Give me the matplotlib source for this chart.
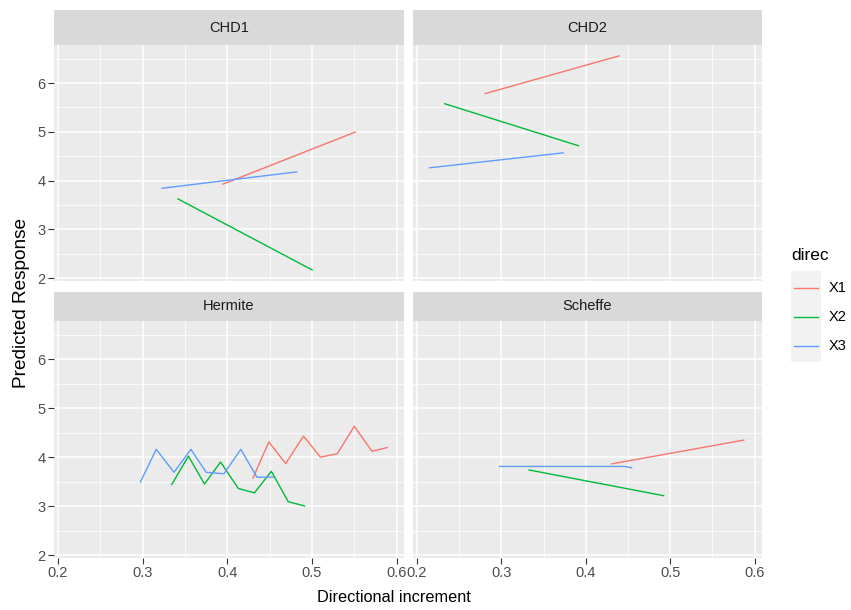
import matplotlib
matplotlib.use("Agg")
import matplotlib.pyplot as plt
from matplotlib.patches import Rectangle
from matplotlib.lines import Line2D
import numpy as np

# ---------------- data ----------------
panels = ["CHD1", "CHD2", "Hermite", "Scheffe"]
directions = ["X1", "X2", "X3"]
colors = ["#F8766D", "#00BA38", "#619CFF"]

# CHD1
chd1_x1_x = [0.394, 0.552]
chd1_x1_y = [3.92, 5.00]
chd1_x2_x = [0.341, 0.501]
chd1_x2_y = [3.63, 2.16]
chd1_x3_x = [0.322, 0.483]
chd1_x3_y = [3.84, 4.18]

# CHD2
chd2_x1_x = [0.280, 0.440]
chd2_x1_y = [5.78, 6.56]
chd2_x2_x = [0.232, 0.392]
chd2_x2_y = [5.58, 4.71]
chd2_x3_x = [0.214, 0.374]
chd2_x3_y = [4.26, 4.57]

# Hermite
herm_x1_x = [0.430, 0.449, 0.469, 0.490, 0.510, 0.530, 0.550, 0.571, 0.590]
herm_x1_y = [3.56, 4.31, 3.87, 4.43, 4.00, 4.07, 4.63, 4.12, 4.20]
herm_x2_x = [0.334, 0.354, 0.373, 0.392, 0.413, 0.432, 0.452, 0.472, 0.492]
herm_x2_y = [3.43, 4.02, 3.45, 3.90, 3.36, 3.27, 3.71, 3.09, 3.00]
herm_x3_x = [0.297, 0.316, 0.337, 0.357, 0.375, 0.396, 0.416, 0.435, 0.455]
herm_x3_y = [3.48, 4.16, 3.69, 4.16, 3.69, 3.66, 4.16, 3.59, 3.59]

# Scheffe
sch_x1_x = [0.430, 0.588]
sch_x1_y = [3.86, 4.35]
sch_x2_x = [0.332, 0.493]
sch_x2_y = [3.74, 3.21]
sch_x3_x = [0.297, 0.446, 0.455]
sch_x3_y = [3.81, 3.81, 3.78]

series = {
    "CHD1": [(chd1_x1_x, chd1_x1_y), (chd1_x2_x, chd1_x2_y), (chd1_x3_x, chd1_x3_y)],
    "CHD2": [(chd2_x1_x, chd2_x1_y), (chd2_x2_x, chd2_x2_y), (chd2_x3_x, chd2_x3_y)],
    "Hermite": [(herm_x1_x, herm_x1_y), (herm_x2_x, herm_x2_y), (herm_x3_x, herm_x3_y)],
    "Scheffe": [(sch_x1_x, sch_x1_y), (sch_x2_x, sch_x2_y), (sch_x3_x, sch_x3_y)],
}

x_ticks = [0.2, 0.3, 0.4, 0.5, 0.6]
x_tick_labels = ["0.2", "0.3", "0.4", "0.5", "0.6"]
y_ticks = [2, 3, 4, 5, 6]

# ---------------- style ----------------
plt.rcParams['font.family'] = ['Liberation Sans', 'DejaVu Sans']
W, H = 851, 610
fig = plt.figure(figsize=(W / 100, H / 100), dpi=100)
fig.patch.set_facecolor("white")

# shared limits (ggplot 5% expansion)
allx = np.concatenate([np.array(s[0]) for p in panels for s in series[p]])
ally = np.concatenate([np.array(s[1]) for p in panels for s in series[p]])
xr = allx.max() - allx.min()
yr = ally.max() - ally.min()
xlim = (allx.min() - 0.05 * xr, allx.max() + 0.05 * xr)
ylim = (ally.min() - 0.05 * yr, ally.max() + 0.05 * yr)

def fx(px):
    return px / W

def fy(py):
    return 1 - py / H

cols = [(54, 404), (413, 762)]
rows = [((10, 45), (45, 281)), ((292, 321), (321, 558))]

tick_col = "#4D4D4D"
for i, name in enumerate(panels):
    r, c = divmod(i, 2)
    (sx0, sx1) = cols[c]
    (st0, st1), (pt0, pt1) = rows[r]
    ax = fig.add_axes([fx(sx0), fy(pt1), fx(sx1) - fx(sx0), fy(pt0) - fy(pt1)])
    ax.set_facecolor("#EBEBEB")
    for sp in ax.spines.values():
        sp.set_visible(False)
    ax.set_xlim(*xlim)
    ax.set_ylim(*ylim)
    ax.set_xticks(x_ticks)
    ax.set_yticks(y_ticks)
    ax.set_xticks([0.25, 0.35, 0.45, 0.55], minor=True)
    ax.set_yticks([2.5, 3.5, 4.5, 5.5, 6.5], minor=True)
    ax.grid(True, which="major", color="white", linewidth=1.1)
    ax.grid(True, which="minor", color="white", linewidth=0.55)
    ax.set_axisbelow(True)
    ax.tick_params(which="minor", length=0)
    ax.tick_params(which="major", length=4, width=0.8, color="#333333",
                   labelcolor=tick_col, labelsize=10.5, pad=2)
    if r == 1:
        ax.set_xticklabels(x_tick_labels)
    else:
        ax.tick_params(axis="x", which="major", length=0, labelbottom=False)
    if c == 1:
        ax.tick_params(axis="y", which="major", length=0, labelleft=False)
    for (xs, ys), col in zip(series[name], colors):
        ax.plot(xs, ys, color=col, linewidth=1.0, solid_capstyle="butt")
    # strip
    fig.patches.append(Rectangle((fx(sx0), fy(st1)), fx(sx1) - fx(sx0), fy(st0) - fy(st1),
                                 transform=fig.transFigure, facecolor="#D9D9D9",
                                 edgecolor="none"))
    fig.text(fx((sx0 + sx1) / 2), fy((st0 + st1) / 2), name, ha="center", va="center",
             fontsize=10.5, color="#1A1A1A")

# axis titles
fig.text(fx(394), fy(598), "Directional increment", ha="center", va="center",
         fontsize=11.7, color="black")
fig.text(fx(22), fy(303), "Predicted Response", ha="center", va="center",
         rotation=90, fontsize=13.7, color="black")

# legend
fig.text(fx(791), fy(255), "direc", ha="left", va="center", fontsize=12.5, color="black")
fig.patches.append(Rectangle((fx(791), fy(362)), fx(821) - fx(791), fy(271) - fy(362),
                             transform=fig.transFigure, facecolor="#F2F2F2",
                             edgecolor="none"))
key_y = [288, 317, 346]
for lab, col, ky in zip(directions, colors, key_y):
    fig.lines.append(Line2D([fx(794), fx(818)], [fy(ky), fy(ky)], transform=fig.transFigure,
                            color=col, linewidth=1.0))
    fig.text(fx(829), fy(ky), lab, ha="left", va="center", fontsize=10.5, color="black")

fig.savefig("out.png", dpi=100)
